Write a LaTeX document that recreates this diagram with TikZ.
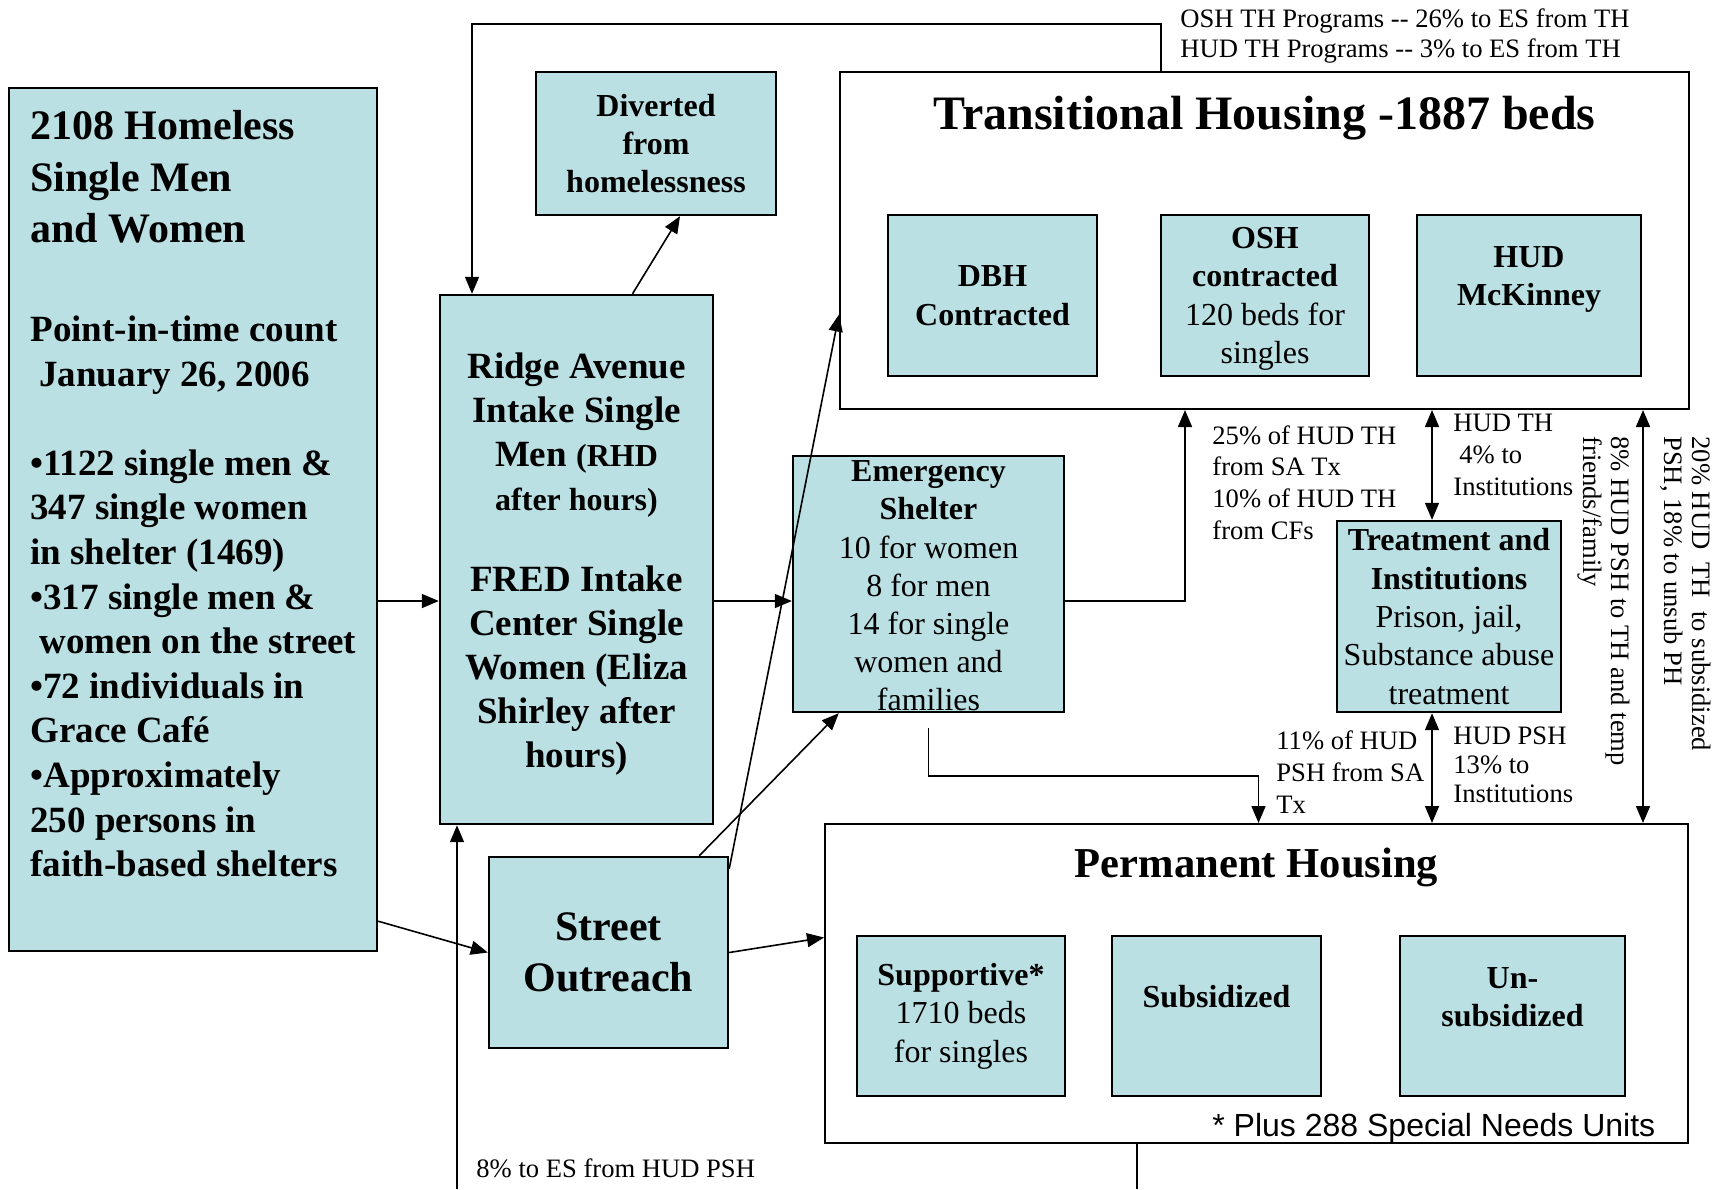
\documentclass[tikz,border=0pt]{standalone}
\usepackage{fontspec}
\setmainfont{Liberation Serif}
\newfontfamily\arialfont{Liberation Sans}
\usetikzlibrary{arrows.meta, positioning}
\definecolor{boxblue}{RGB}{187, 224, 227}

\begin{document}
\begin{tikzpicture}[x=0.5pt, y=-0.5pt,
    bluebox/.style={draw, line width=1.2pt, fill=boxblue, inner sep=0pt, align=center, font=\fontsize{16}{19.2}\selectfont},
    boldbox/.style={bluebox, font=\fontsize{16}{19.2}\selectfont\bfseries},
    bigbox/.style={draw, line width=1pt, inner sep=0pt},
    conn/.style={line width=0.8pt},
    arr/.style={conn, -{Triangle[length=8.5pt, width=7pt]}},
    darr/.style={conn, {Triangle[length=8.5pt, width=7pt]}-{Triangle[length=8.5pt, width=7pt]}},
    lbl/.style={inner sep=0pt, align=left, font=\fontsize{13.3}{15.9}\selectfont}]
    \fill[white] (0,0) rectangle (1722,1189);
    \useasboundingbox (0,0) rectangle (1722,1189);

    \node[bluebox, minimum width=184pt, minimum height=431.5pt] (homeless) at (193, 519.5) {};
    \node[anchor=north west, inner sep=0pt, align=left, font=\fontsize{18.5}{22.3}\selectfont\bfseries] (homelesstxt) at (30, 110)
        {{\fontsize{21}{25.8}\selectfont 2108 Homeless}\\[3.5pt]
         {\fontsize{21}{25.8}\selectfont Single Men}\\[3.5pt]
         {\fontsize{21}{25.8}\selectfont and Women}\\[27.1pt]
         Point-in-time count\\
         \hspace*{4.5pt}January 26, 2006\\[22.3pt]
         •1122 single men \&\\
         347 single women\\
         in shelter (1469)\\
         •317 single men \&\\
         \hspace*{4.5pt}women on the street\\
         •72 individuals in\\
         Grace Café\\
         •Approximately\\
         250 persons in\\
         faith-based shelters};

    \node[bluebox, minimum width=136.5pt, minimum height=264.5pt] (ridge) at (576.5, 559.5) {};
    \node[inner sep=0pt, align=center, font=\fontsize{18.5}{22}\selectfont\bfseries] (ridgetxt) at ([yshift=-2.2pt]ridge.center)
        {Ridge Avenue\\Intake Single\\Men {\fontsize{16}{19}\selectfont(RHD}\\{\fontsize{16}{19}\selectfont after hours)}\\[18.6pt]
         FRED Intake\\Center Single\\Women (Eliza\\Shirley after\\hours)};
    \node[boldbox, minimum width=120pt, minimum height=71.5pt] (diverted) at (656, 143.5) {Diverted\\from\\homelessness};

    \node[bigbox, minimum width=424.5pt, minimum height=168.5pt] (th) at (1264.5, 240.5) {};
    \node[below=12.5pt of th.north, inner sep=0pt, font=\fontsize{24}{28}\selectfont\bfseries] (thtitle) {Transitional Housing -1887 beds};
    \node[boldbox, minimum width=104.5pt, minimum height=80.5pt] (dbh) at (992.5, 295.5) {DBH\\Contracted};
    \node[bluebox, minimum width=104pt, minimum height=80.5pt] (osh) at (1265, 295.5) {};
    \node[inner sep=0pt, align=center, font=\fontsize{16}{19.2}\selectfont] (oshtxt) at ([yshift=-1.6pt]osh.center)
        {\textbf{OSH}\\\textbf{contracted}\\120 beds for\\singles};
    \node[boldbox, minimum width=112pt, minimum height=80.5pt] (hud) at (1529, 295.5) {HUD\\McKinney\\\mbox{}};

    \node[bluebox, minimum width=135.5pt, minimum height=128pt] (es) at (928.5, 584) {};
    \node[inner sep=0pt, align=center, font=\fontsize{16}{19.1}\selectfont] (estxt) at ([yshift=-1pt]es.center)
        {\textbf{Emergency}\\\textbf{Shelter}\\10 for women\\8 for men\\14 for single\\women and\\families};
    \node[bluebox, minimum width=112pt, minimum height=95.5pt] (treat) at (1449, 616.5)
        {\textbf{Treatment and}\\\textbf{Institutions}\\Prison, jail,\\Substance abuse\\treatment};
    \node[bluebox, minimum width=119.5pt, minimum height=95.5pt, font=\fontsize{21}{25.3}\selectfont\bfseries] (street) at (608.5, 952.5) {Street\\Outreach};

    \node[bigbox, minimum width=431.5pt, minimum height=159.5pt] (ph) at (1256.5, 983.5) {};
    \node[below=12.5pt of ph.north, inner sep=0pt, font=\fontsize{21.3}{25}\selectfont\bfseries] (phtitle) {Permanent Housing};
    \node[bluebox, minimum width=104pt, minimum height=80pt] (supp) at (961, 1016) {\textbf{Supportive*}\\1710 beds\\for singles};
    \node[boldbox, minimum width=104.5pt, minimum height=80pt] (subs) at (1216.5, 1016) {Subsidized\\\mbox{}};
    \node[boldbox, minimum width=112.5pt, minimum height=80pt] (unsub) at (1512.5, 1016) {Un-\\subsidized\\\mbox{}};
    \node[anchor=west, inner sep=0pt, font=\arialfont\fontsize{16}{19}\selectfont] (notelbl) at (1212, 1128) {* Plus 288 Special Needs Units};

    \coordinate (midrow) at (0, 601);
    \coordinate (colA) at (1185, 0);
    \coordinate (colB) at (1432, 0);
    \coordinate (colC) at (1643, 0);
    \coordinate (colD) at (1258.5, 776);
    \coordinate (loopR) at (1161, 24);
    \coordinate (loopL) at (472, 24);
    \coordinate (botR) at (1137, 1189);
    \coordinate (botL) at (457, 1189);

    \draw[arr] (homeless.east |- midrow) -- (ridge.west |- midrow);
    \draw[arr] (ridge.east |- midrow) -- (es.west |- midrow);
    \draw[arr] ([yshift=15.5pt]homeless.south east) -- (street.west);
    \draw[arr] ([xshift=28pt]ridge.north) -- ([xshift=12pt]diverted.south);
    \draw[arr] ([xshift=-15pt]street.north east) -- ([xshift=23.5pt]es.south west);
    \draw[arr] ([yshift=-6.5pt]street.north east) -- ([yshift=-37pt]th.west);
    \draw[arr] (street.east) -- ([yshift=23pt]ph.west);
    \draw[arr] (es.east |- midrow) -| (colA |- th.south);
    \draw[arr] ([yshift=-7.5pt]es.south) |- (colD) -- (colD |- ph.north);
    \draw[darr] (colB |- th.south) -- (colB |- treat.north);
    \draw[darr] (colB |- treat.south) -- (colB |- ph.north);
    \draw[darr] (colC |- th.south) -- (colC |- ph.north);
    \draw[arr] (loopR |- th.north) -- (loopR) -- (loopL) -- (loopL |- ridge.north);
    \draw[conn] (botR |- ph.south) -- (botR);
    \draw[arr] (botL) -- (botL |- ridge.south);

    \node[lbl, anchor=west, font=\fontsize{13.3}{14.8}\selectfont] (toplbl) at (1180, 36)
        {OSH TH Programs -{}- 26\% to ES from TH\\HUD TH Programs -{}- 3\% to ES from TH};
    \node[lbl, anchor=west] (esthlbl) at (1212, 482.6) {25\% of HUD TH\\from SA Tx\\10\% of HUD TH\\from CFs};
    \node[lbl, anchor=west] (thtrlbl) at (1453, 455) {HUD TH\\\hspace*{3pt}4\% to\\Institutions};
    \node[lbl, anchor=west, font=\fontsize{13.3}{14.5}\selectfont] (trphlbl) at (1453, 765) {HUD PSH\\13\% to\\Institutions};
    \node[lbl, anchor=west] (esphlbl) at (1276, 772) {11\% of HUD\\PSH from SA\\Tx};
    \node[lbl, anchor=west] (botlbl) at (476, 1168) {8\% to ES from HUD PSH};
    \node[lbl, rotate=-90, anchor=north west, font=\fontsize{13.3}{14}\selectfont] (psthlbl) at (1630, 436)
        {8\% HUD PSH to TH and temp\\friends/family};
    \node[lbl, rotate=-90, anchor=north west, font=\fontsize{13.3}{14}\selectfont] (thphlbl) at (1711, 436)
        {20\% HUD\ \ TH\ \ to subsidized\\PSH, 18\% to unsub PH};
\end{tikzpicture}
\end{document}
